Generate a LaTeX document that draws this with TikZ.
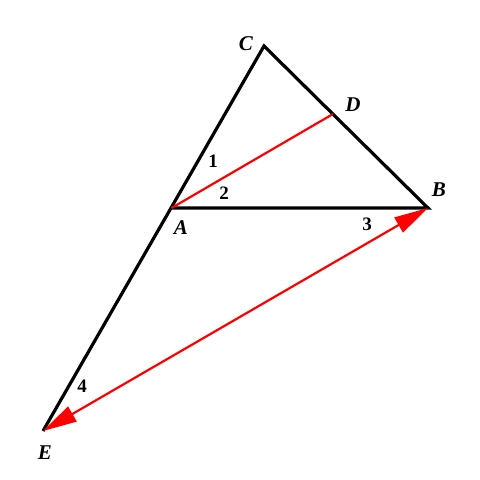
\documentclass[tikz,border=0pt]{standalone}
\usepackage{fontspec}
\setmainfont{Liberation Serif}
\usetikzlibrary{arrows.meta}
\begin{document}
\begin{tikzpicture}[x=1pt,y=-1pt,
  side/.style={line width=3.2pt, line join=miter},
  redline/.style={red, line width=2.2pt},
  lbl/.style={font=\fontsize{21}{21}\selectfont\bfseries\itshape, inner sep=0pt},
  num/.style={font=\fontsize{19}{19}\selectfont\bfseries, inner sep=0pt}]
\fill[white] (0,0) rectangle (480,480);
\useasboundingbox (0,0) rectangle (480,480);
\coordinate (C) at (264,46);
\coordinate (B) at (428,208);
\coordinate (A) at (171.5,208);
\coordinate (D) at (333,114);
\coordinate (E) at (43,431);
\draw[side] (E) -- (C) -- (B) -- (A);
\draw[redline] (A) -- (D);
\draw[redline, {Triangle[length=34pt,width=17pt]}-{Triangle[length=34pt,width=17pt]}] (E) -- (B);
\node[lbl] (lC) at (246,44) {C};
\node[lbl] (lD) at (353,105) {D};
\node[lbl] (lB) at (439,190) {B};
\node[lbl] (lA) at (181,228) {A};
\node[lbl] (lE) at (45,453) {E};
\node[num] (n1) at (213,161) {1};
\node[num] (n2) at (224,193) {2};
\node[num] (n3) at (367,224) {3};
\node[num] (n4) at (82,386) {4};
\end{tikzpicture}
\end{document}
